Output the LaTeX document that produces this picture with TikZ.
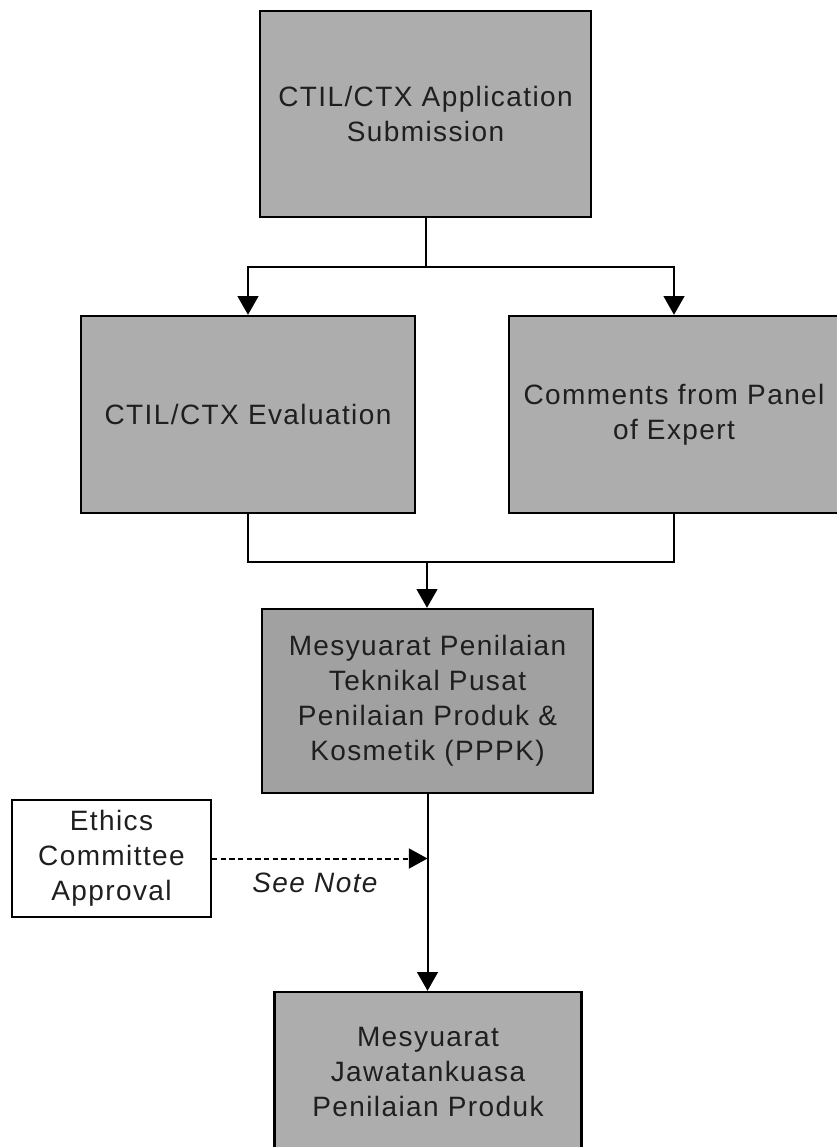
\documentclass[tikz,border=0pt]{standalone}
\usepackage{fontspec}
\setmainfont{Liberation Sans}[LetterSpace=5]
\usetikzlibrary{arrows.meta}
\definecolor{boxgray}{gray}{0.68}
\definecolor{boxgrayd}{gray}{0.63}
\definecolor{ink}{gray}{0.12}
\tikzset{
  gbox/.style={draw=black, line width=1.8pt, fill=boxgray, align=center, inner sep=0pt,
    text=ink, font=\fontsize{21pt}{26.25pt}\selectfont},
  wbox/.style={draw=black, line width=1.5pt, fill=white, align=center, inner sep=0pt,
    text=ink, font=\fontsize{21pt}{26.25pt}\selectfont},
  conn/.style={line width=1.5pt, draw=black},
  arr/.style={conn, -{Triangle[width=15.5pt,length=14pt]}},
  darr/.style={line width=1.5pt, dashed, dash pattern=on 4pt off 2.5pt, -{Triangle[width=15pt,length=14pt]}},
}
\begin{document}
\begin{tikzpicture}[x=0.75pt,y=-0.75pt]
\useasboundingbox (0,0) rectangle (837,1147);
\fill[white] (0,0) rectangle (837,1147);

\node[gbox, minimum width=248.25pt, minimum height=154.5pt] (sub) at (425.5,114)
  {CTIL/CTX Application\\Submission};
\node[gbox, minimum width=250.5pt, minimum height=147.75pt] (eval) at (248,414.5)
  {CTIL/CTX Evaluation};
\node[gbox, minimum width=247.5pt, minimum height=147.75pt] (panel) at (674,414.5)
  {Comments from Panel\\of Expert};
\node[gbox, fill=boxgrayd, minimum width=248.25pt, minimum height=138pt] (pppk) at (427.5,701)
  {Mesyuarat Penilaian\\Teknikal Pusat\\Penilaian Produk \&\\Kosmetik (PPPK)};
\node[wbox, minimum width=149.25pt, minimum height=87.75pt] (ethics) at (111.5,858.5)
  {Ethics\\Committee\\Approval};
\node[gbox, minimum width=230.25pt, minimum height=120pt] (jk) at (428,1072)
  {Mesyuarat\\Jawatankuasa\\Penilaian Produk};

\coordinate (split) at (425.5,267);
\coordinate (join) at (427,562);

\draw[conn] (sub.south) -- (split);
\draw[arr] (split) -| (eval.north);
\draw[arr] (split) -| (panel.north);
\draw[conn] (eval.south) |- (join);
\draw[conn] (panel.south) |- (join);
\draw[arr] (join) -- (join |- pppk.north);
\draw[arr] (pppk.south) -- (pppk.south |- jk.north);
\draw[darr] (ethics.east) -- (pppk.south |- ethics.east);
\node[font=\itshape\fontsize{21pt}{26.25pt}\selectfont, text=ink, inner sep=0pt] (note) at (315,883) {See Note};
\end{tikzpicture}
\end{document}
